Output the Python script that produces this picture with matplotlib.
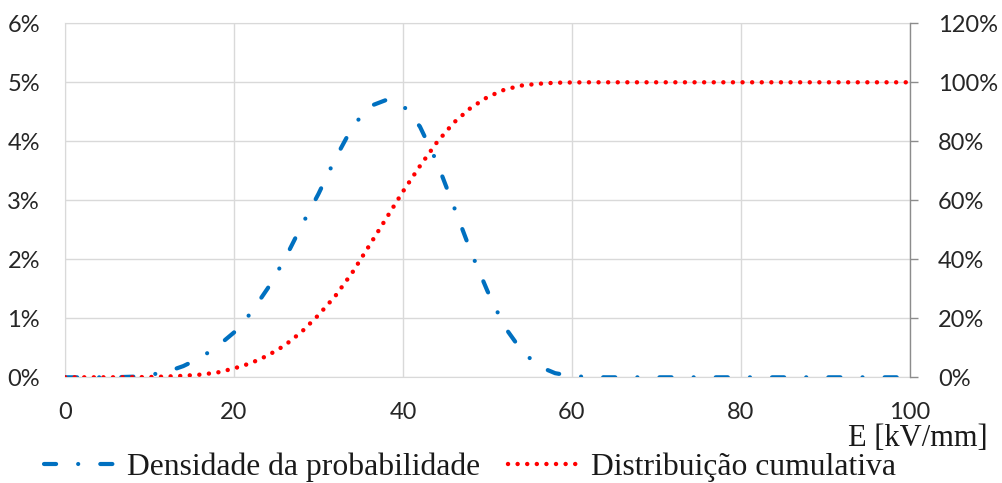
import matplotlib
matplotlib.use("Agg")
import matplotlib.pyplot as plt
from matplotlib.ticker import FuncFormatter

# campo eletrico [kV/mm]
e_kv = [0, 2, 4, 6, 8, 10, 12, 14, 16, 18, 20, 22, 24, 26, 28, 30, 32, 34, 36, 38, 40,
        42, 44, 46, 48, 50, 52, 54, 56, 58, 60, 62, 64, 66, 68, 70, 72, 74, 76, 78, 80,
        82, 84, 86, 88, 90, 92, 94, 96, 98, 100]

# densidade da probabilidade [%]
densidade = [0, 0, 0, 0.002, 0.01, 0.04, 0.09, 0.19, 0.33, 0.52, 0.76, 1.09, 1.51, 2.00,
             2.57, 3.11, 3.71, 4.24, 4.59, 4.70, 4.61, 4.25, 3.65, 2.90, 2.14, 1.46, 0.86,
             0.46, 0.19, 0.07, 0.02, 0.005, 0, 0, 0, 0, 0, 0, 0, 0, 0,
             0, 0, 0, 0, 0, 0, 0, 0, 0, 0]

# distribuicao cumulativa [%]
cumulativa = [0, 0, 0, 0.01, 0.03, 0.1, 0.25, 0.5, 0.9, 1.6, 3.0, 4.8, 7.4, 10.8, 15.4,
              21.1, 27.6, 35.5, 44.6, 53.8, 63.0, 71.6, 79.6, 86.3, 91.3, 95.0, 97.5,
              98.9, 99.5, 99.85, 99.95, 100, 100, 100, 100, 100, 100, 100, 100, 100, 100,
              100, 100, 100, 100, 100, 100, 100, 100, 100, 100]

x_ticks = [0, 20, 40, 60, 80, 100]
y_left_ticks = [0, 1, 2, 3, 4, 5, 6]
y_right_ticks = [0, 20, 40, 60, 80, 100, 120]

blue = "#0070C0"
red = "#FF0000"
grid_col = "#D9D9D9"
tick_font = "Lato"
serif_font = "Liberation Serif"

fig = plt.figure(figsize=(10.03, 4.83), dpi=100)
ax = fig.add_axes([65 / 1003, 1 - 377.3 / 483, 845 / 1003, 354 / 483])
ax2 = ax.twinx()

ax.plot(e_kv, densidade, color=blue, lw=3.0, dash_capstyle="round",
        dashes=(2.9, 5.3, 0.01, 5.3), label="Densidade da probabilidade", zorder=3)
ax2.plot(e_kv, cumulativa, color=red, lw=3.2, dash_capstyle="round",
         dashes=(0.01, 2.15), label="Distribuição cumulativa", zorder=3)

ax.set_xlim(0, 100)
ax.set_ylim(0, 6)
ax2.set_ylim(0, 120)
ax.set_xticks(x_ticks)
ax.set_yticks(y_left_ticks)
ax2.set_yticks(y_right_ticks)
ax.yaxis.set_major_formatter(FuncFormatter(lambda v, p: f"{v:.0f}%"))
ax2.yaxis.set_major_formatter(FuncFormatter(lambda v, p: f"{v:.0f}%"))

ax.grid(True, color=grid_col, lw=1.0)
ax.set_axisbelow(True)
for s in ["left", "bottom", "top"]:
    ax.spines[s].set_color(grid_col)
    ax2.spines[s].set_visible(False)
ax.spines["right"].set_visible(False)
ax2.spines["right"].set_color("#8C8C8C")
ax2.spines["right"].set_linewidth(1.0)

ax.tick_params(axis="both", length=0, labelsize=17, labelcolor="#262626")
ax.tick_params(axis="x", pad=18)
ax.tick_params(axis="y", pad=18)
ax2.tick_params(axis="y", length=6, width=1.0, color="#8C8C8C", labelsize=17,
                labelcolor="#262626", pad=14)
for lab in ax.get_xticklabels() + ax.get_yticklabels() + ax2.get_yticklabels():
    lab.set_fontfamily(tick_font)

fig.text(988 / 1003, 1 - 439 / 483, "E [kV/mm]", ha="right", va="center",
         fontsize=22, family=serif_font, color="#1a1a1a")

h1, l1 = ax.get_legend_handles_labels()
h2, l2 = ax2.get_legend_handles_labels()
fig.legend(h1 + h2, l1 + l2, loc="center", ncol=2, frameon=False,
           bbox_to_anchor=(470 / 1003, 1 - 467 / 483),
           prop={"family": serif_font, "size": 22.8}, handlelength=2.35,
           handletextpad=0.3, columnspacing=0.85, labelcolor="#1a1a1a",
           borderpad=0, borderaxespad=0)

fig.savefig("out.png", dpi=100)
